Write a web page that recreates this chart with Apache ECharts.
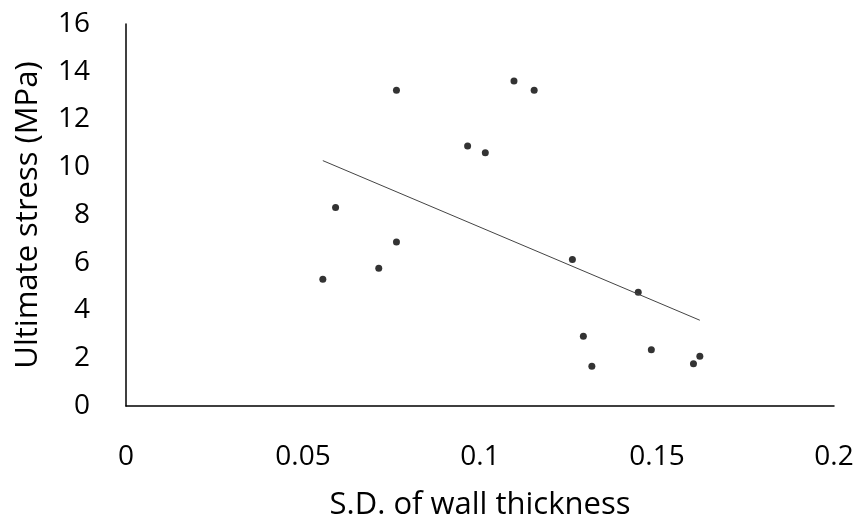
<!DOCTYPE html>
<html>
<head>
<meta charset="utf-8">
<script src="https://cdn.jsdelivr.net/npm/echarts@6/dist/echarts.min.js"></script>
<style>
  html, body { margin: 0; padding: 0; background: #fff; }
  #chart { width: 862px; height: 521px; }
</style>
</head>
<body>
<div id="chart"></div>
<script>
// Wall-thickness variability (S.D.) vs. ultimate stress (MPa)
const sdThickness = [0.0764, 0.0965, 0.1015, 0.0592, 0.0764, 0.0714, 0.0556, 0.1096,
                     0.1153, 0.1261, 0.1447, 0.1292, 0.1316, 0.1484, 0.1603, 0.1621];
const ultimateStress = [13.23, 10.89, 10.61, 8.31, 6.87, 5.77, 5.31, 13.61,
                        13.23, 6.14, 4.76, 2.92, 1.67, 2.36, 1.77, 2.08];
const xTicks = [0, 0.05, 0.1, 0.15, 0.2];
const yTicks = [0, 2, 4, 6, 8, 10, 12, 14, 16];

const points = sdThickness.map((x, i) => [x, ultimateStress[i]]);

// Least-squares linear trendline across the data range
const n = points.length;
const mx = sdThickness.reduce((a, b) => a + b, 0) / n;
const my = ultimateStress.reduce((a, b) => a + b, 0) / n;
let sxy = 0, sxx = 0;
for (let i = 0; i < n; i++) {
  sxy += (sdThickness[i] - mx) * (ultimateStress[i] - my);
  sxx += (sdThickness[i] - mx) ** 2;
}
const slope = sxy / sxx;
const intercept = my - slope * mx;
const xMin = Math.min(...sdThickness), xMax = Math.max(...sdThickness);
const trend = [[xMin, intercept + slope * xMin], [xMax, intercept + slope * xMax]];

const font = '"Open Sans", "Noto Sans", sans-serif';
const chart = echarts.init(document.getElementById('chart'));
chart.setOption({
  animation: false,
  backgroundColor: '#ffffff',
  grid: { left: 126, right: 28, top: 24, bottom: 115, containLabel: false, outerBoundsMode: 'none' },
  xAxis: {
    type: 'value',
    min: xTicks[0], max: xTicks[xTicks.length - 1], interval: 0.05,
    name: 'S.D. of wall thickness',
    nameLocation: 'middle', nameGap: 84,
    nameTextStyle: { fontFamily: font, fontSize: 31, color: '#000' },
    axisLine: { show: true, lineStyle: { color: '#000', width: 1.5 } },
    axisTick: { show: false },
    splitLine: { show: false },
    axisLabel: { fontFamily: font, fontSize: 28, color: '#000', margin: 37,
                 formatter: v => String(v) }
  },
  yAxis: {
    type: 'value',
    min: yTicks[0], max: yTicks[yTicks.length - 1], interval: 2,
    name: 'Ultimate stress (MPa)',
    nameLocation: 'middle', nameGap: 82,
    nameTextStyle: { fontFamily: font, fontSize: 31, color: '#000' },
    axisLine: { show: true, lineStyle: { color: '#000', width: 1.5 } },
    axisTick: { show: false },
    splitLine: { show: false },
    axisLabel: { fontFamily: font, fontSize: 28, color: '#000', margin: 36 }
  },
  series: [
    {
      type: 'line',
      data: trend,
      symbol: 'none',
      lineStyle: { color: '#444', width: 1 },
      silent: true
    },
    {
      type: 'scatter',
      data: points,
      symbol: 'circle',
      symbolSize: 7,
      itemStyle: { color: '#000' }
    }
  ]
});
</script>
</body>
</html>
